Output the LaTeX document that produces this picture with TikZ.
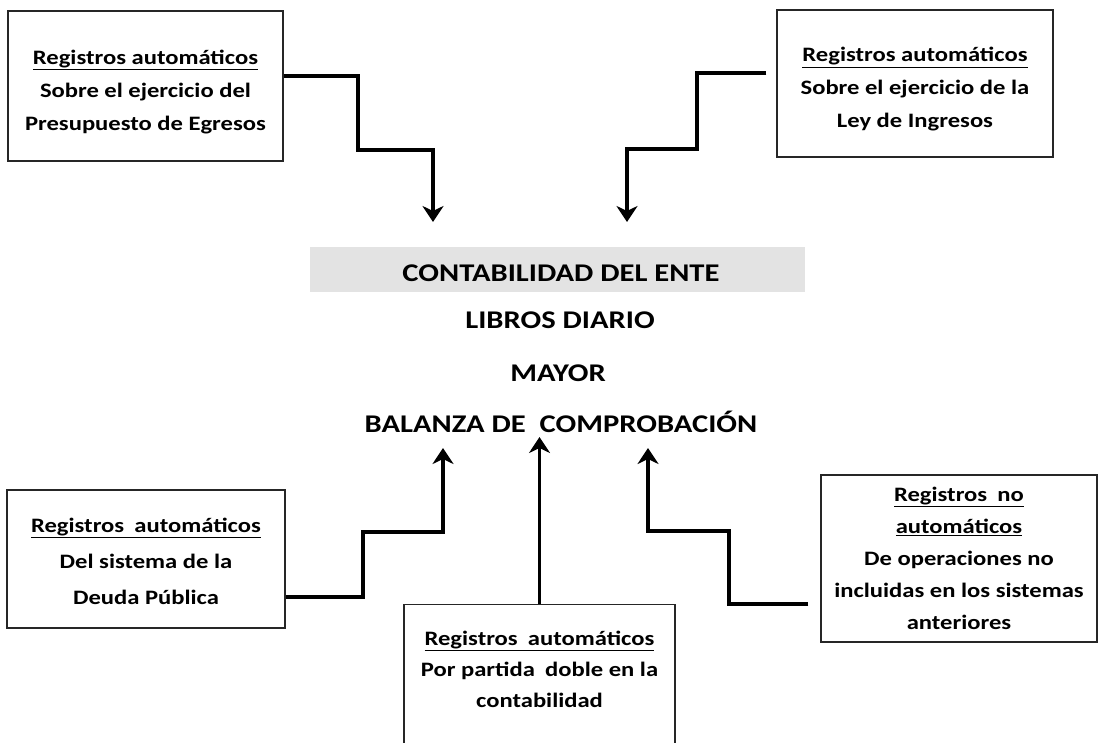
\documentclass[tikz,border=0pt]{standalone}
\usepackage{fontspec}
\setmainfont{Carlito}
\newfontfamily\widefont[FakeStretch=1.2]{Carlito}
\usetikzlibrary{arrows.meta}
\begin{document}
\begin{tikzpicture}[x=1pt,y=-1pt]
\useasboundingbox (0,0) rectangle (1099,742);
\clip (0,0) rectangle (1099,742);
\fill[white] (0,0) rectangle (1099,742);
\tikzset{
  frame/.style={draw=black!85, line width=1.3pt, inner sep=0pt},
  regtext/.style={align=center, inner sep=0pt, font=\widefont\bfseries\fontsize{20.5}{33}\selectfont},
  head/.style={font=\widefont\bfseries\fontsize{25.5}{28}\selectfont, inner sep=0pt},
  conn/.style={line width=3.2pt, -{Stealth[length=16pt,width=21pt,inset=5pt]}}
}
% boxes
\node[frame, minimum width=275pt, minimum height=150pt] (tl) at (145.5,86) {};
\node[regtext] (tlt) at ([yshift=-6pt]tl.center)
  {\underline{Registros automáticos}\\Sobre el ejercicio del\\Presupuesto de Egresos};
\node[frame, minimum width=276pt, minimum height=147pt] (tr) at (915,83.5) {};
\node[regtext] (trt) at ([yshift=-6pt]tr.center)
  {\underline{Registros automáticos}\\Sobre el ejercicio de la\\Ley de Ingresos};
\node[frame, minimum width=278pt, minimum height=138pt] (bl) at (146,559) {};
\node[regtext, font=\widefont\bfseries\fontsize{20.5}{36}\selectfont] (blt) at ([yshift=-2pt]bl.center)
  {\underline{Registros\enspace automáticos}\\Del sistema de la\\Deuda Pública};
\node[frame, minimum width=276pt, minimum height=167pt] (br) at (959,558.5) {};
\node[regtext, font=\widefont\bfseries\fontsize{20.5}{32}\selectfont] (brt) at (br.center)
  {\underline{Registros\enspace no}\\\underline{automáticos}\\De operaciones no\\incluidas en los sistemas\\anteriores};
\node[frame, minimum width=271pt, minimum height=170pt, anchor=north] (bc) at (539.5,604) {};
\node[regtext, font=\widefont\bfseries\fontsize{20.5}{31}\selectfont] (bct) at (539.5,669)
  {\underline{Registros\enspace automáticos}\\Por partida\enspace doble en la\\contabilidad};
% centre
\node[fill=gray!22, minimum width=495pt, minimum height=45pt, inner sep=0pt] (band) at (557.5,269.5) {};
\node[head] (h1) at (561,273) {CONTABILIDAD DEL ENTE};
\node[head] (h2) at (560,320) {LIBROS DIARIO};
\node[head] (h3) at (558,373) {MAYOR};
\node[head] (h4) at (561,422) {BALANZA DE\ \ COMPROBACIÓN};
% arrow tips
\coordinate (t1) at (433,222);
\coordinate (t2) at (627,222);
\coordinate (t3) at (443,448);
\coordinate (t4) at (539.5,437);
\coordinate (t5) at (648,448);
% connectors
\draw[conn] ([yshift=10pt]tl.east) -| (358,150) -| (t1);
\draw[conn] ([xshift=-10pt,yshift=10.5pt]tr.west) -| (697,149) -| (t2);
\draw[conn] ([yshift=-38pt]bl.east) -| (363,532) -| (t3);
\draw[conn] (bc.north) -- (t4);
\draw[conn] ([xshift=-12pt,yshift=-45.5pt]br.west) -| (729,531) -| (t5);
\end{tikzpicture}
\end{document}
